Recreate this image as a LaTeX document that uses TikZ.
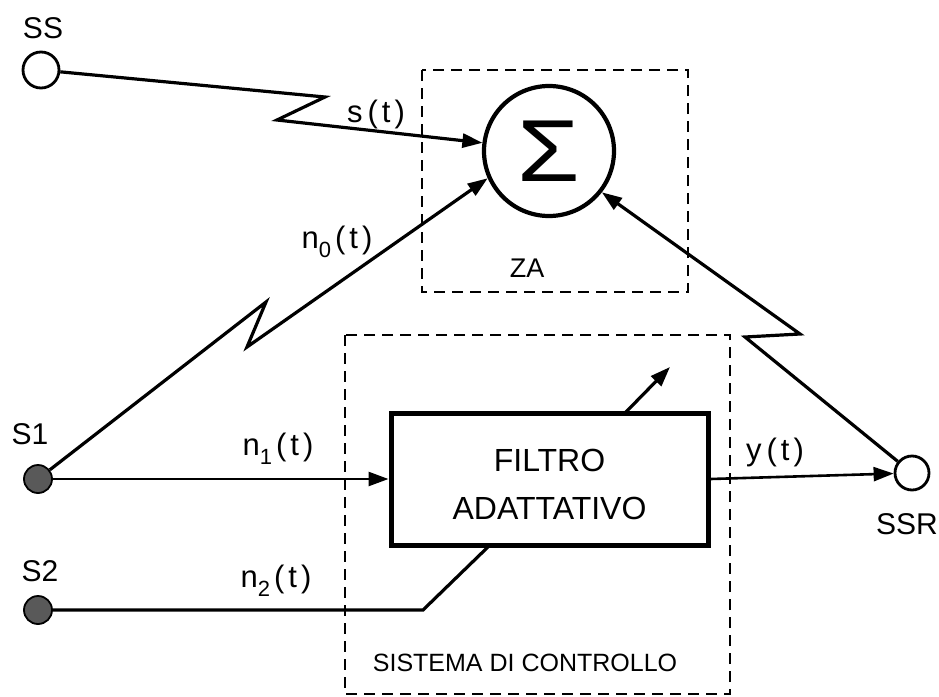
\documentclass[tikz,border=0pt]{standalone}
\usepackage{fontspec}
\setmainfont{Liberation Sans}
\usetikzlibrary{arrows.meta}
\newcommand{\sigl}[2]{#1\raisebox{-9pt}{\fontsize{22}{22}\selectfont #2}\hspace{4pt}(\hspace{4pt}t\hspace{4pt})}
\newcommand{\plainl}[1]{#1\hspace{5pt}(\hspace{4pt}t\hspace{4pt})}
\begin{document}
\begin{tikzpicture}[x=1pt,y=-1pt,
  lbl/.style={inner sep=0pt, font=\fontsize{30}{30}\selectfont},
  siglbl/.style={inner sep=0pt, font=\fontsize{31}{31}\selectfont},
  wire/.style={line width=3.2pt, line join=miter},
  thinwire/.style={line width=2.6pt},
  arr/.style={-{Triangle[length=20pt,width=14pt]}},
  opensrc/.style={circle, draw, line width=2.8pt, minimum size=36pt, inner sep=0pt},
  fullsrc/.style={circle, draw, fill=black!65, line width=1.8pt, minimum size=28pt, inner sep=0pt},
  dbox/.style={draw, line width=2.8pt, dash pattern=on 11pt off 7pt},
]
\useasboundingbox (0,0) rectangle (939,696);
% dashed regions
\draw[dbox] (422,70) rectangle (688,292);
\draw[dbox] (345,335) rectangle (730,694);
\node[inner sep=0pt, font=\fontsize{27}{27}\selectfont] (za) at (527,268) {ZA};
\node[inner sep=0pt, font=\fontsize{25}{25}\selectfont] (sdc) at (525,663) {SISTEMA DI CONTROLLO};
% summing junction
\node[circle, draw, line width=4.2pt, minimum size=130pt, inner sep=0pt,
      font=\fontsize{88}{88}\selectfont] (sigma) at (549,151) {\scalebox{1.15}[1]{Σ}};
% filter
\node[draw, line width=5pt, minimum width=317pt, minimum height=132pt, inner sep=0pt] (filtro) at (549.5,479) {};
\node[inner sep=0pt, align=center, font=\fontsize{32}{48}\selectfont] (ftext) at (549.5,484) {FILTRO\\ADATTATIVO};
% sources
\node[opensrc] (ss) at (41,70) {};
\node[lbl] (sslbl) at (43,28) {SS};
\node[fullsrc] (s1) at (38,479) {};
\node[lbl] (s1lbl) at (30,434) {S1};
\node[fullsrc] (s2) at (38,610) {};
\node[lbl] (s2lbl) at (40,571) {S2};
\node[opensrc, minimum size=34pt] (ssr) at (912,473) {};
\node[lbl] (ssrlbl) at (907,524) {SSR};
% s(t)
\coordinate (z1) at (325,97);
\coordinate (z2) at (277,120);
\draw[wire,arr] (ss) -- (z1) -- (z2) -- (sigma.173);
\node[siglbl] (stl) at (376,114) {\plainl{s}};
% n0(t)
\coordinate (z3) at (266,302);
\coordinate (z4) at (247,347);
\draw[wire,arr] (s1) -- (z3) -- (z4) -- (sigma.204);
\node[siglbl] (n0l) at (337,242) {\sigl{n}{0}};
% n1(t)
\draw[thinwire,arr] (s1) -- (filtro.west);
\node[siglbl] (n1l) at (278,449) {\sigl{n}{1}};
% n2(t)
\coordinate (k1) at (423,610);
\coordinate (k2) at (490,545);
\draw[wire] (s2) -- (k1) -- (k2);
\node[siglbl] (n2l) at (276,581) {\sigl{n}{2}};
% adaptation arrow
\coordinate (a1) at (625,413);
\coordinate (a2) at (670,367);
\draw[wire,arr] (a1) -- (a2);
% y(t)
\draw[thinwire,arr] (filtro.east) -- (ssr);
\node[siglbl] (ytl) at (775,452) {\plainl{y}};
% SSR to sigma
\coordinate (z5) at (745,337);
\coordinate (z6) at (800,334);
\draw[wire,arr] (ssr) -- (z5) -- (z6) -- (sigma.-38);
\end{tikzpicture}
\end{document}
